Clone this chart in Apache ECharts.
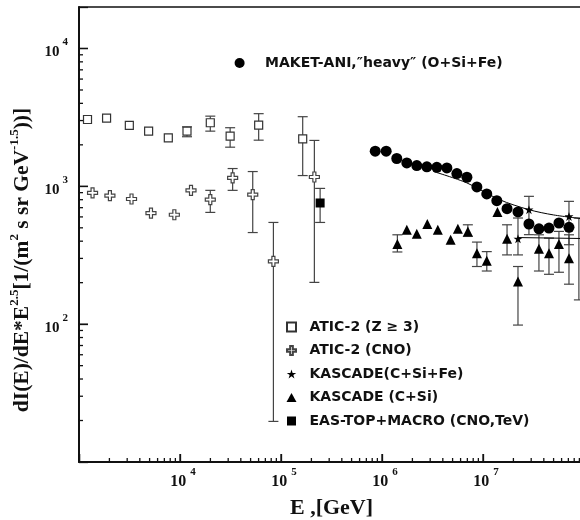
<!DOCTYPE html>
<html>
<head>
<meta charset="utf-8">
<title>heavy component spectrum</title>
<style>
  html, body { margin: 0; padding: 0; background: #fff; }
  #chart { width: 580px; height: 520px; }
</style>
</head>
<body>
<div id="chart"></div>
<script src="https://cdn.jsdelivr.net/npm/echarts@6.0.0/dist/echarts.min.js"></script>
<script>
// values, E in GeV, flux as dI/dE*E^2.5
const aticAllPts = [[1214, 3055], [1875, 3127], [3150, 2766], [4890, 2514], [7660, 2249],
  [11730, 2514], [19950, 2893], [31360, 2312], [60100, 2780], [164000, 2213]];
const aticAllErr = [[11730, 2290, 2700], [19950, 2514, 3230], [31360, 1923, 2662],
  [60100, 2162, 3366], [164000, 1197, 3200]];

const aticCnoPts = [[1362, 896], [2023, 855], [3311, 809], [5160, 640], [8790, 622],
  [12850, 935], [19950, 800], [33200, 1151], [52500, 871], [84100, 285], [214000, 1169]];
const aticCnoErr = [[19950, 647, 935], [33200, 935, 1346], [52500, 462, 1280],
  [84100, 19.7, 547], [214000, 201, 2153]];

const easTopPts = [[244000, 757]];
const easTopErr = [[244000, 547, 966]];

const maketPts = [[8.57e5, 1799], [1.10e6, 1799], [1.40e6, 1592], [1.76e6, 1479], [2.21e6, 1415],
  [2.78e6, 1384], [3.49e6, 1375], [4.39e6, 1361], [5.51e6, 1237], [6.93e6, 1164],
  [8.7e6, 990], [1.09e7, 881], [1.37e7, 787], [1.73e7, 689], [2.22e7, 652],
  [2.85e7, 533], [3.58e7, 492], [4.50e7, 498], [5.65e7, 542], [7.10e7, 504]];
const fitLine = [[3.3e6, 1275], [6.9e6, 1060], [1.46e7, 800], [2.85e7, 677], [5e7, 620], [1e8, 580]];
const fitLine2 = [[2.2e7, 425], [1e8, 418]];

const kasCSiPts = [[1.42e6, 381], [1.76e6, 484], [2.21e6, 453], [2.81e6, 532], [3.57e6, 484],
  [4.78e6, 409], [5.64e6, 492], [7.08e6, 471], [8.71e6, 327], [1.09e7, 288], [1.39e7, 652],
  [1.73e7, 416], [2.22e7, 204], [3.58e7, 352], [4.5e7, 327], [5.65e7, 381], [7.1e7, 301]];
const kasCSiErr = [[1.42e6, 334, 445], [7.08e6, 433, 526], [8.71e6, 262, 394], [1.09e7, 243, 336],
  [1.73e7, 318, 526], [2.22e7, 98.5, 262], [3.58e7, 243, 445], [4.5e7, 230, 421],
  [5.65e7, 238, 471], [7.1e7, 195, 445], [8.9e7, 150, 589]];

const kasFePts = [[2.22e7, 416], [2.85e7, 677], [7.1e7, 605]];
const kasFeErr = [[2.22e7, 318, 589], [2.85e7, 446, 846], [7.1e7, 377, 778]];

const X_MIN = 1e3, X_MAX = 1e8, Y_MIN = 10, Y_MAX = 2e4;
const xMajorTicks = [1e4, 1e5, 1e6, 1e7];
const yMajorTicks = [1e2, 1e3, 1e4];
const xLabelValues = [1e4, 1e5, 1e6, 1e7];
const xLabelExps = ['4', '5', '6', '7'];
const yLabelValues = [1e2, 1e3, 1e4];
const yLabelExps = ['2', '3', '4'];
const minorSteps = [2, 3, 4, 5, 6, 7, 8, 9];

const SERIF = 'Liberation Serif';
const SANS = 'DejaVu Sans';
const INK = '#111';

const SQUARE = 'path://M0,0L10,0L10,10L0,10Z';
const CROSS = 'path://M3.5,0L6.5,0L6.5,3.5L10,3.5L10,6.5L6.5,6.5L6.5,10L3.5,10L3.5,6.5L0,6.5L0,3.5L3.5,3.5Z';
const TRIANGLE = 'path://M5,0L10,9L0,9Z';
const STAR = 'path://M5,0L6.18,3.6L10,3.6L6.9,5.8L8.1,9.5L5,7.2L1.9,9.5L3.1,5.8L0,3.6L3.82,3.6Z';

const NAME_MAKET = 'MAKET-ANI,\u2033heavy\u2033 (O+Si+Fe)';
const NAME_ALL = 'ATIC-2 (Z \u2265 3)';
const NAME_CNO = 'ATIC-2 (CNO)';
const NAME_FE = 'KASCADE(C+Si+Fe)';
const NAME_CSI = 'KASCADE (C+Si)';
const NAME_EAS = 'EAS-TOP+MACRO (CNO,TeV)';

// 2..9 times every power of ten between two exponents
function minorLogTicks(fromExp, toExp) {
  let out = [];
  for (let d = fromExp; d < toExp; d++) {
    minorSteps.forEach(m => out.push(m * Math.pow(10, d)));
  }
  return out;
}
const xMinorTicks = minorLogTicks(3, 8);
const yMinorTicks = minorLogTicks(1, 4);

function powerLabel(values, exps) {
  return function (v) {
    for (let i = 0; i < values.length; i++) {
      if (Math.abs(v / values[i] - 1) < 1e-6) return '{b|10}{s|' + exps[i] + '}';
    }
    return '';
  };
}

function errorBars(data) {
  return {
    type: 'custom',
    data: data,
    z: 1,
    silent: true,
    encode: { x: 0, y: [1, 2] },
    renderItem: function (params, api) {
      let top = api.coord([api.value(0), api.value(2)]);
      let bot = api.coord([api.value(0), api.value(1)]);
      let w = 5;
      let style = { stroke: '#444', lineWidth: 1.2 };
      return {
        type: 'group',
        children: [
          { type: 'line', shape: { x1: top[0], y1: top[1], x2: bot[0], y2: bot[1] }, style: style },
          { type: 'line', shape: { x1: top[0] - w, y1: top[1], x2: top[0] + w, y2: top[1] }, style: style },
          { type: 'line', shape: { x1: bot[0] - w, y1: bot[1], x2: bot[0] + w, y2: bot[1] }, style: style }
        ]
      };
    }
  };
}

// inward tick marks on the bottom log axis: [x, y, length]
function xTickData() {
  let out = [];
  xMajorTicks.forEach(v => out.push([v, 1000, 8]));
  xMinorTicks.forEach(v => out.push([v, 1000, 4]));
  return out;
}

// inward tick marks on the left log axis: [x, y, length]
function yTickData() {
  let out = [];
  yMajorTicks.forEach(v => out.push([3000, v, 9]));
  yMinorTicks.forEach(v => out.push([3000, v, 4]));
  return out;
}

const xTickSeries = {
  type: 'custom',
  data: xTickData(),
  z: 1,
  silent: true,
  encode: { x: 0, y: 1 },
  renderItem: function (params, api) {
    let p = api.coord([api.value(0), api.value(1)]);
    let corner = api.coord([X_MIN, Y_MIN]);
    let len = api.value(2);
    return {
      type: 'group',
      children: [{ type: 'line', shape: { x1: p[0], y1: corner[1], x2: p[0], y2: corner[1] - len }, style: { stroke: INK, lineWidth: 1.3 } }]
    };
  }
};

const yTickSeries = {
  type: 'custom',
  data: yTickData(),
  z: 1,
  silent: true,
  encode: { x: 0, y: 1 },
  renderItem: function (params, api) {
    let p = api.coord([api.value(0), api.value(1)]);
    let left = params.coordSys.x;
    let len = api.value(2);
    let style = { stroke: INK, lineWidth: 1.3 };
    return {
      type: 'group',
      children: [
        { type: 'line', shape: { x1: left, y1: p[1] - 1, x2: left, y2: p[1] + 1 }, style: style },
        { type: 'line', shape: { x1: left, y1: p[1], x2: left + len, y2: p[1] }, style: style }
      ]
    };
  }
};

function pointSeries(name, data, symbol, size, fill, border) {
  return {
    name: name,
    type: 'scatter',
    data: data,
    symbol: symbol,
    symbolSize: size,
    z: 3,
    itemStyle: { color: fill, borderColor: border || fill, borderWidth: border ? 1.2 : 0, opacity: 1 }
  };
}

const legendText = { fontFamily: SANS, fontWeight: 'bold', fontSize: 14, color: INK, lineHeight: 16 };

var myChart = echarts.init(document.getElementById('chart'), null, { renderer: 'canvas' });

var option = {
  animation: false,
  backgroundColor: '#fff',
  grid: { left: 79, right: -4, top: 7, bottom: 58, containLabel: false, outerBoundsMode: 'none' },
  legend: [
    {
      data: [NAME_MAKET],
      left: 229.6, top: 50,
      itemWidth: 41, itemHeight: 10,
      selectedMode: false,
      textStyle: legendText
    },
    {
      data: [NAME_ALL, NAME_CNO, NAME_FE, NAME_CSI, NAME_EAS],
      orient: 'vertical',
      left: 281, top: 314,
      itemWidth: 26, itemHeight: 9, itemGap: 7.5,
      selectedMode: false,
      textStyle: legendText
    }
  ],
  xAxis: [
    {
      type: 'log', logBase: 10, min: X_MIN, max: X_MAX, position: 'bottom',
      name: 'E ,[GeV]', nameLocation: 'middle', nameGap: 32,
      nameTextStyle: { fontFamily: SERIF, fontWeight: 'bold', fontSize: 22, color: INK, lineHeight: 26 },
      axisLine: { show: true, onZero: false, lineStyle: { color: INK, width: 2 } },
      axisTick: { show: true, inside: true, length: 8, lineStyle: { color: INK, width: 1.3 } },
      axisLabel: {
        margin: 5, padding: [0, 0, 0, 6],
        formatter: powerLabel(xLabelValues, xLabelExps),
        rich: {
          b: { fontFamily: SERIF, fontWeight: 'bold', fontSize: 16, color: INK, lineHeight: 30 },
          s: { fontFamily: SERIF, fontWeight: 'bold', fontSize: 11, color: INK, lineHeight: 12, verticalAlign: 'top', padding: [0, 0, 0, 4] }
        }
      },
      splitLine: { show: false }
    },
    {
      // frame line along the top of the plot
      type: 'value', min: 3, max: 8, position: 'top',
      axisLine: { show: true, onZero: false, lineStyle: { color: INK, width: 1.5 } },
      axisTick: { show: false }, axisLabel: { show: false }, splitLine: { show: false }
    }
  ],
  yAxis: {
    type: 'log', logBase: 10, min: Y_MIN, max: Y_MAX, position: 'left',
    name: '{a|dI(E)/dE*E}{s|2.5}{a|[1/(m}{s|2}{a| s sr GeV}{s|-1.5}{a|))]}',
    nameLocation: 'middle', nameRotate: 90, nameGap: 31.5,
    nameTextStyle: {
      padding: [0, 51, 0, 0],
      rich: {
        a: { fontFamily: SERIF, fontWeight: 'bold', fontSize: 21.5, color: INK, lineHeight: 28 },
        s: { fontFamily: SERIF, fontWeight: 'bold', fontSize: 13, color: INK, lineHeight: 13, verticalAlign: 'top' }
      }
    },
    axisLine: { show: true, onZero: false, lineStyle: { color: INK, width: 2 } },
    axisTick: { show: true, inside: true, length: 9, lineStyle: { color: INK, width: 1.3 } },
    axisLabel: {
      margin: 11, padding: [8, 0, 0, 0],
      formatter: powerLabel(yLabelValues, yLabelExps),
      rich: {
        b: { fontFamily: SERIF, fontWeight: 'bold', fontSize: 15, color: INK, lineHeight: 32 },
        s: { fontFamily: SERIF, fontWeight: 'bold', fontSize: 11, color: INK, lineHeight: 12, verticalAlign: 'top', padding: [0, 0, 0, 3] }
      }
    },
    splitLine: { show: false }
  },
  series: [
    xTickSeries,
    yTickSeries,
    errorBars(aticAllErr),
    errorBars(aticCnoErr),
    errorBars(easTopErr),
    errorBars(kasCSiErr),
    errorBars(kasFeErr),
    {
      type: 'line', data: fitLine, smooth: 0.3, showSymbol: false, silent: true, z: 1,
      lineStyle: { color: '#000', width: 1 }
    },
    {
      type: 'line', data: fitLine2, showSymbol: false, silent: true, z: 1,
      lineStyle: { color: '#000', width: 1 }
    },
    pointSeries(NAME_ALL, aticAllPts, SQUARE, 8, '#fff', '#333'),
    pointSeries(NAME_CNO, aticCnoPts, CROSS, 10, '#fff', '#444'),
    pointSeries(NAME_EAS, easTopPts, SQUARE, 9, '#000'),
    pointSeries(NAME_MAKET, maketPts, 'circle', 11, '#000'),
    pointSeries(NAME_CSI, kasCSiPts, TRIANGLE, 10, '#000'),
    pointSeries(NAME_FE, kasFePts, STAR, 9, '#000')
  ]
};

myChart.setOption(option);
</script>
</body>
</html>
